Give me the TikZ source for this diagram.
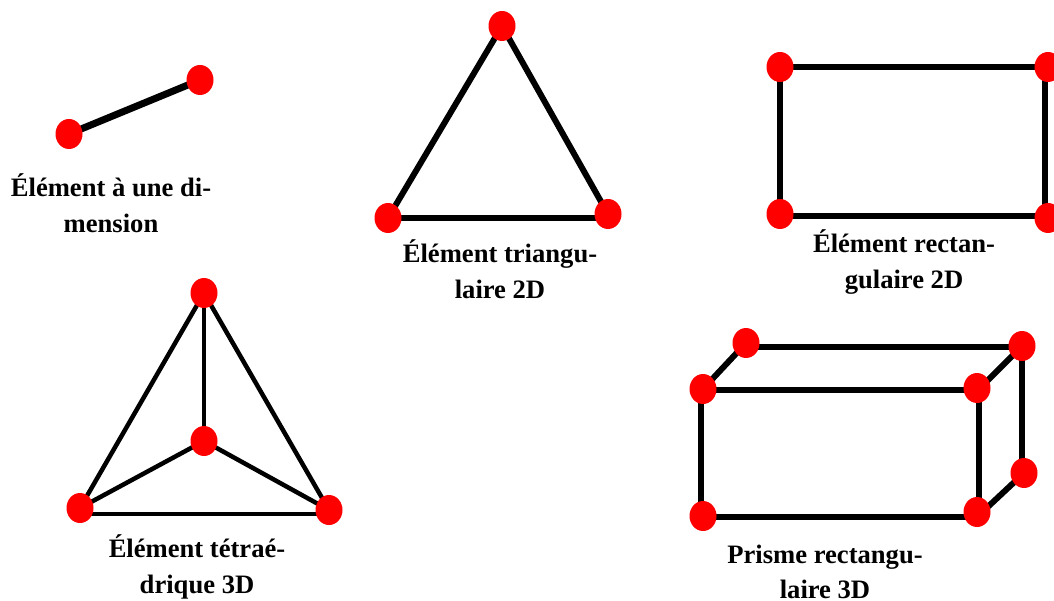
\documentclass[tikz,border=0pt]{standalone}
\usepackage{fontspec}
\setmainfont{Liberation Serif}
\usetikzlibrary{shapes.geometric}
\tikzset{
  pt/.style={ellipse,fill=red,draw=none,minimum width=27pt,minimum height=30pt,inner sep=0pt},
  seg/.style={draw=black,line width=6pt},
  thinseg/.style={draw=black,line width=4.5pt},
  lbl/.style={font=\bfseries\fontsize{26.6}{35.6}\selectfont,align=center,inner sep=0pt,text=black}
}
\begin{document}
\begin{tikzpicture}[x=1pt,y=-1pt]
\useasboundingbox (0,0) rectangle (1054,601);
\clip (0,0) rectangle (1054,601);
% 1D
\coordinate (a1) at (69,134);
\coordinate (a2) at (200,80);
\draw[line width=7pt] (a1) -- (a2);
\node[pt] (n1) at (a1) {};
\node[pt] (n2) at (a2) {};
\node[lbl] (t1) at (111,203) {Élément à une di-\\mension};
% triangle
\coordinate (b1) at (502,26);
\coordinate (b2) at (388,218);
\coordinate (b3) at (608,214);
\coordinate (b3b) at (608,218);
\draw[seg] (b2) -- (b1) -- (b3);
\draw[seg] (b2) -- (b3b);
\node[pt] (n3) at (b1) {};
\node[pt] (n4) at (b2) {};
\node[pt] (n5) at (b3) {};
\node[lbl] (t2) at (500,269) {Élément triangu-\\laire 2D};
% rectangle
\coordinate (c1) at (780,67);
\coordinate (c2) at (1048,67);
\coordinate (c3) at (780,214);
\coordinate (c4) at (1048,218);
\coordinate (c5) at (780,216);
\coordinate (c6) at (1048,216);
\coordinate (c7) at (1045,67);
\coordinate (c8) at (1045,218);
\draw[seg] (c1) -- (c2);
\draw[seg] (c1) -- (c3);
\draw[seg] (c5) -- (c6);
\draw[seg] (c7) -- (c8);
\node[pt] (n6) at (c1) {};
\node[pt] (n7) at (c2) {};
\node[pt] (n8) at (c3) {};
\node[pt] (n9) at (c4) {};
\node[lbl] (t3) at (904,262) {Élément rectan-\\gulaire 2D};
% tetrahedron
\coordinate (d1) at (204,293);
\coordinate (d2) at (204,441);
\coordinate (d3) at (80,508);
\coordinate (d4) at (329,510);
\draw[thinseg] (d3) -- (d1) -- (d4);
\draw[thinseg] (d1) -- (d2);
\draw[thinseg] (d3) -- (d2) -- (d4);
\draw[thinseg] ([yshift=-6pt]d3) -- ([yshift=-4pt]d4);
\node[pt] (n10) at (d1) {};
\node[pt] (n11) at (d2) {};
\node[pt] (n12) at (d3) {};
\node[pt] (n13) at (d4) {};
\node[lbl] (t4) at (197,567) {Élément tétraé-\\drique 3D};
% prism
\coordinate (e1) at (703,389);
\coordinate (e2) at (746,343);
\coordinate (e3) at (1022,346);
\coordinate (e4) at (977,388);
\coordinate (e5) at (703,516);
\coordinate (e6) at (977,512);
\coordinate (e7) at (1024,473);
\draw[seg] (e1) -- (e2);
\draw[seg] ([yshift=-4pt]e2) -- ([yshift=-1pt]e3);
\draw[seg] (e3) -- ([yshift=-3pt]e4);
\draw[seg] ([yshift=-1pt]e1) -- ([yshift=-2pt]e4);
\draw[seg] ([xshift=-2pt]e1) -- ([xshift=-2pt]e5);
\draw[seg] ([yshift=-1pt]e5) -- ([yshift=-5pt]e6);
\draw[seg] ([xshift=2pt]e4) -- ([xshift=2pt]e6);
\draw[seg] ([yshift=-5pt]e6) -- (e7);
\draw[seg] (e3) -- ([xshift=-2pt]e7);
\node[pt] (n14) at (e1) {};
\node[pt] (n15) at (e2) {};
\node[pt] (n16) at (e3) {};
\node[pt] (n17) at (e4) {};
\node[pt] (n18) at (e5) {};
\node[pt] (n19) at (e6) {};
\node[pt] (n20) at (e7) {};
\node[lbl] (t5) at (825,572) {Prisme rectangu-\\laire 3D};
\end{tikzpicture}
\end{document}
